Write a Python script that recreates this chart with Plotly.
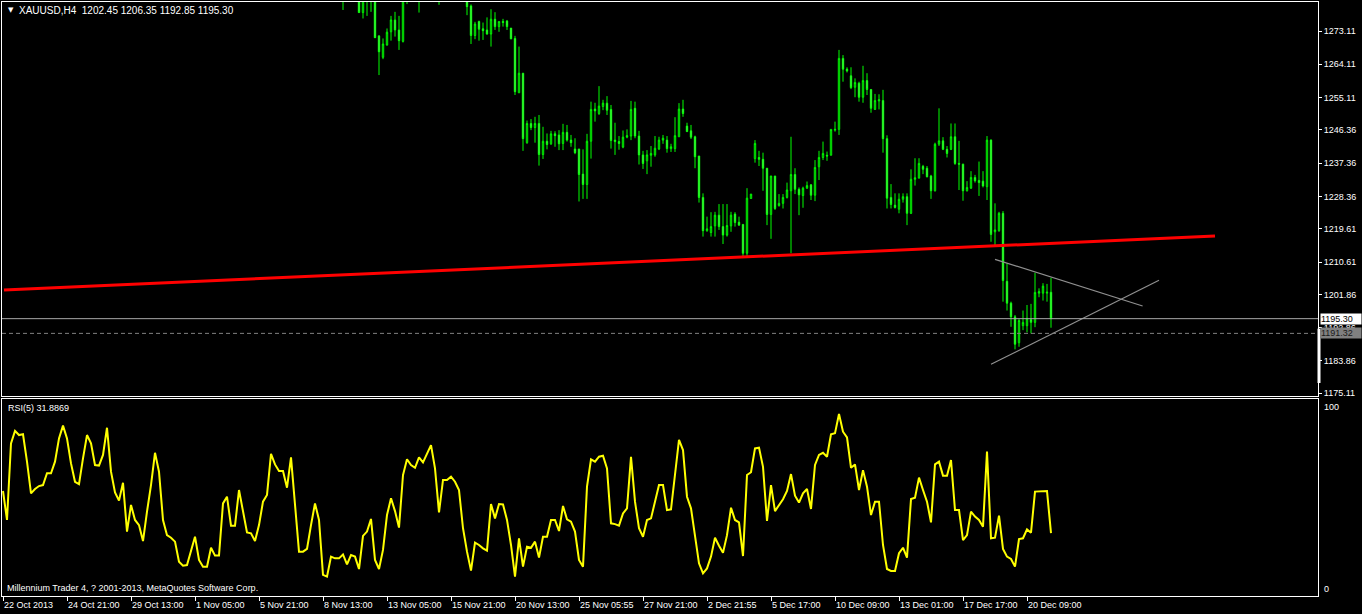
import plotly.graph_objects as go

# ---------------- data ----------------
first_bar = 85  # candles before this index lie above the visible price range

open_ = [
    1283.0, None, None, None, 1283.5, 1278.1, 1283.0, 1285.0, 1287.0, 1271.8,
    1266.0, 1269.3, 1272.9, 1276.1, 1273.4, 1270.3, 1283.0, None, None, 1285.0,
    None, None, None, None, 1284.0, None, None, None, None, None,
    None, 1282.5, 1279.9, 1271.9, 1275.7, 1273.7, 1273.4, 1272.3, 1276.3, 1274.3,
    1275.7, 1275.8, 1273.9, 1271.1, 1256.4, 1261.7, 1242.9, 1248.1, 1247.0, 1248.1,
    1239.7, 1243.3, 1242.6, 1245.3, 1245.0, 1242.7, 1245.7, 1243.6, 1241.2, 1241.2,
    1234.4, 1231.6, 1243.3, 1252.0, 1250.8, 1252.7, 1253.6, 1251.9, 1243.6, 1243.2,
    1241.7, 1244.4, 1244.7, 1252.2, 1244.7, 1239.6, 1238.0, 1239.5, 1239.6, 1241.2,
    1243.6, 1243.6, 1241.3, 1241.3, 1244.5, 1252.0, 1247.4, 1246.1, 1244.5, 1239.3,
    1228.1, 1219.1, 1218.6, 1220.4, 1223.3, 1220.2, 1217.9, 1220.4, 1223.6, 1221.4,
    1220.8, 1213.0, 1227.8, 1238.6, 1238.9, 1238.4, 1236.0, 1223.5, 1233.9, 1225.9,
    1226.5, 1228.1, 1229.9, 1234.3, 1230.3, 1228.6, 1230.6, 1231.5, 1228.7, 1236.4,
    1238.9, 1239.5, 1239.5, 1246.3, 1246.5, 1265.7, 1262.8, 1261.0, 1257.9, 1259.0,
    1255.2, 1259.7, 1257.3, 1251.9, 1254.2, 1254.3, 1244.0, 1228.1, 1226.0, 1224.9,
    1227.6, 1228.3, 1223.8, 1233.0, 1233.3, 1236.5, 1236.0, 1233.9, 1229.9, 1242.5,
    1243.4, 1241.1, 1241.1, 1244.5, 1237.3, 1237.1, 1229.9, 1230.6, 1233.5, 1232.7,
    1232.5, 1231.0, 1243.6, 1218.8, 1219.1, 1223.8, 1205.4, 1199.5, 1195.8, 1188.8,
    1193.4, 1193.4, 1195.1, 1194.3, 1202.2, 1202.2, 1202.2, 1202.45,
]
high = [
    1285.5, None, None, None, 1284.5, 1284.0, 1286.0, 1288.0, 1288.0, 1271.8,
    1271.1, 1273.8, 1277.2, 1278.3, 1277.2, 1284.0, 1286.0, None, None, 1286.0,
    None, None, None, None, 1285.0, None, None, None, None, None,
    None, 1283.5, 1280.3, 1275.6, 1275.9, 1275.4, 1276.8, 1279.0, 1278.2, 1275.7,
    1276.4, 1276.1, 1273.9, 1271.8, 1268.9, 1261.7, 1248.9, 1249.3, 1249.9, 1250.4,
    1247.2, 1245.4, 1246.1, 1246.0, 1246.3, 1248.0, 1247.7, 1245.0, 1244.1, 1241.2,
    1241.1, 1245.3, 1254.0, 1253.7, 1258.2, 1254.5, 1255.5, 1253.1, 1248.3, 1244.7,
    1246.2, 1246.5, 1254.2, 1254.0, 1246.1, 1240.7, 1240.9, 1242.0, 1244.7, 1244.5,
    1245.0, 1244.7, 1242.6, 1249.8, 1253.6, 1254.5, 1248.3, 1247.7, 1244.8, 1239.3,
    1229.2, 1222.9, 1224.1, 1224.2, 1226.3, 1226.3, 1226.3, 1224.2, 1224.1, 1222.9,
    1220.8, 1230.6, 1229.0, 1243.6, 1240.7, 1240.2, 1236.0, 1233.9, 1233.9, 1229.0,
    1229.0, 1232.1, 1244.5, 1236.0, 1230.8, 1231.0, 1232.4, 1231.7, 1238.2, 1240.7,
    1243.2, 1240.5, 1246.5, 1248.6, 1268.0, 1266.6, 1263.3, 1263.3, 1260.3, 1259.4,
    1263.7, 1261.7, 1257.3, 1256.1, 1256.0, 1257.2, 1244.9, 1231.7, 1229.2, 1229.2,
    1229.2, 1229.2, 1235.7, 1238.7, 1238.7, 1236.9, 1236.6, 1234.2, 1242.9, 1252.2,
    1244.4, 1242.0, 1248.1, 1248.1, 1243.4, 1237.2, 1232.5, 1235.2, 1234.2, 1237.8,
    1235.2, 1244.7, 1243.8, 1226.5, 1224.2, 1224.4, 1210.3, 1199.9, 1196.3, 1195.2,
    1197.5, 1199.0, 1199.3, 1207.7, 1203.5, 1204.9, 1204.7, 1206.35,
]
low = [
    1278.8, None, None, None, 1278.0, 1276.5, 1277.2, 1278.3, 1271.3, 1261.2,
    1265.5, 1269.2, 1270.5, 1271.6, 1268.0, 1270.0, 1280.4, None, None, 1278.1,
    None, None, None, None, 1280.2, None, None, None, None, None,
    None, 1277.4, 1269.6, 1270.9, 1270.5, 1270.7, 1272.1, 1268.9, 1273.4, 1272.9,
    1274.3, 1273.4, 1270.9, 1255.8, 1256.4, 1240.7, 1242.6, 1246.3, 1242.9, 1236.7,
    1238.5, 1241.1, 1242.3, 1241.8, 1240.9, 1240.9, 1243.2, 1241.8, 1239.8, 1227.0,
    1227.7, 1227.7, 1238.6, 1248.6, 1250.4, 1251.7, 1250.4, 1241.3, 1239.6, 1241.0,
    1241.4, 1244.1, 1243.6, 1244.1, 1237.0, 1235.8, 1234.4, 1236.4, 1239.1, 1240.9,
    1242.6, 1240.2, 1240.4, 1240.4, 1244.5, 1249.9, 1245.9, 1243.9, 1236.0, 1226.7,
    1217.5, 1218.8, 1217.5, 1217.5, 1219.3, 1215.5, 1217.5, 1218.8, 1220.2, 1220.5,
    1211.9, 1211.9, 1227.8, 1237.5, 1236.6, 1229.9, 1220.6, 1216.9, 1224.7, 1225.6,
    1225.1, 1227.8, 1213.0, 1229.0, 1223.3, 1225.3, 1230.4, 1227.4, 1227.1, 1232.8,
    1238.2, 1238.0, 1239.5, 1245.9, 1245.0, 1259.4, 1261.9, 1257.4, 1255.2, 1254.0,
    1253.7, 1255.8, 1251.0, 1251.8, 1251.9, 1240.2, 1225.1, 1225.1, 1225.1, 1223.8,
    1226.7, 1220.6, 1223.6, 1231.3, 1233.3, 1234.4, 1233.5, 1227.7, 1229.7, 1242.0,
    1240.9, 1238.9, 1240.9, 1236.9, 1230.1, 1227.2, 1229.7, 1230.4, 1232.1, 1228.5,
    1230.8, 1227.4, 1216.1, 1215.2, 1218.8, 1199.9, 1197.5, 1193.1, 1187.0, 1187.7,
    1192.2, 1191.6, 1191.3, 1193.0, 1201.1, 1200.2, 1199.9, 1192.85,
]
close = [
    1284.0, None, None, None, 1278.1, 1283.0, 1285.0, 1287.0, 1271.3, 1267.5,
    1269.6, 1272.8, 1276.1, 1273.4, 1270.5, 1283.0, 1285.0, None, None, 1284.0,
    None, None, None, None, 1282.5, None, None, None, None, None,
    None, 1279.7, 1271.9, 1275.0, 1273.6, 1273.2, 1272.3, 1276.3, 1274.3, 1275.7,
    1275.4, 1274.3, 1271.0, 1256.7, 1261.7, 1244.0, 1248.1, 1247.0, 1248.1, 1239.7,
    1243.3, 1242.4, 1245.3, 1244.8, 1242.6, 1245.7, 1243.6, 1242.9, 1240.2, 1234.3,
    1231.6, 1243.3, 1251.9, 1251.5, 1252.8, 1253.6, 1251.7, 1243.5, 1243.2, 1242.7,
    1244.4, 1244.8, 1251.9, 1244.7, 1239.6, 1237.3, 1239.6, 1240.0, 1241.4, 1243.6,
    1244.1, 1241.3, 1241.8, 1244.8, 1252.0, 1250.8, 1245.9, 1244.4, 1239.1, 1228.1,
    1219.1, 1219.6, 1220.2, 1223.3, 1220.2, 1217.9, 1220.5, 1223.3, 1221.3, 1220.6,
    1213.0, 1227.9, 1229.0, 1242.7, 1238.4, 1236.0, 1223.5, 1233.9, 1225.1, 1226.5,
    1228.1, 1230.1, 1234.3, 1230.3, 1228.8, 1230.6, 1231.3, 1228.7, 1236.2, 1238.9,
    1240.0, 1239.3, 1246.5, 1246.5, 1265.7, 1262.8, 1262.3, 1257.8, 1259.2, 1255.2,
    1259.7, 1257.3, 1252.2, 1254.3, 1254.5, 1244.0, 1227.9, 1226.2, 1225.4, 1227.6,
    1228.3, 1223.8, 1233.0, 1233.4, 1237.3, 1235.7, 1233.7, 1229.9, 1242.5, 1243.4,
    1241.1, 1240.0, 1244.5, 1237.3, 1237.1, 1229.9, 1230.8, 1233.5, 1232.6, 1232.1,
    1231.2, 1243.6, 1218.1, 1219.3, 1223.8, 1205.6, 1199.5, 1195.8, 1188.4, 1194.8,
    1194.3, 1195.4, 1194.3, 1202.4, 1202.6, 1204.1, 1202.45, 1195.30,
]

rsi = [
    53.3, 38.6, 77.5, 83.8, 81.7, 82.1, 68.2, 52.1, 54.3, 55.8,
    56.3, 62.3, 62.3, 68.2, 80.0, 86.5, 80.0, 67.3, 58.0, 56.8,
    69.9, 81.7, 77.5, 66.5, 66.2, 71.6, 85.4, 63.1, 52.6, 48.4,
    57.5, 32.7, 46.2, 38.6, 36.0, 27.9, 42.8, 56.3, 72.7, 63.1,
    38.6, 30.9, 29.6, 27.6, 17.4, 15.4, 15.7, 22.5, 30.1, 18.3,
    14.9, 14.9, 24.5, 20.5, 20.5, 47.0, 50.4, 35.7, 35.7, 53.8,
    43.6, 32.3, 31.8, 27.9, 36.0, 47.9, 51.3, 72.1, 66.8, 63.5,
    63.5, 55.0, 70.4, 47.9, 22.5, 22.5, 23.9, 36.0, 47.0, 38.6,
    10.7, 9.8, 20.0, 19.1, 19.1, 21.1, 16.1, 20.8, 20.0, 13.7,
    30.5, 32.7, 39.1, 18.3, 13.7, 23.4, 41.1, 49.6, 43.1, 34.7,
    61.4, 69.4, 66.5, 65.1, 70.4, 67.8, 72.4, 76.6, 64.8, 42.4,
    58.9, 58.9, 60.6, 58.0, 53.8, 34.4, 22.5, 12.9, 27.1, 25.9,
    24.2, 23.0, 46.7, 39.4, 46.7, 46.5, 38.6, 25.9, 9.8, 29.3,
    14.9, 25.0, 24.5, 27.6, 19.5, 30.1, 30.1, 38.6, 38.6, 33.0,
    45.7, 38.9, 37.7, 32.7, 18.3, 14.9, 55.5, 69.4, 68.2, 70.7,
    71.2, 64.8, 36.9, 36.5, 35.7, 41.9, 44.5, 70.7, 47.9, 34.4,
    30.1, 38.6, 39.4, 47.9, 56.3, 56.3, 43.6, 44.0, 63.1, 79.2,
    74.1, 50.4, 44.5, 30.9, 16.6, 11.5, 14.0, 20.0, 29.6, 25.5,
    22.0, 30.9, 44.8, 38.6, 37.4, 20.3, 61.4, 62.8, 74.9, 75.3,
    65.6, 38.1, 56.3, 43.1, 46.2, 49.1, 53.3, 61.9, 50.9, 47.4,
    52.1, 54.3, 44.2, 66.5, 71.6, 72.7, 70.7, 82.1, 82.6, 92.4,
    83.4, 80.5, 65.1, 66.8, 53.8, 63.9, 55.5, 41.1, 47.9, 47.9,
    25.9, 13.7, 12.7, 12.7, 21.7, 24.5, 19.5, 49.2, 49.9, 60.1,
    53.8, 47.9, 37.4, 66.8, 68.2, 61.1, 61.1, 69.0, 43.6, 43.6,
    28.4, 30.9, 42.8, 40.3, 38.6, 35.2, 73.3, 29.3, 29.6, 40.8,
    23.9, 20.0, 18.8, 14.9, 28.9, 29.3, 33.8, 32.1, 53.0, 53.0,
    53.3, 53.3, 31.8869,
]

time_tick_bars = [0, 16, 32, 48, 64, 80, 96, 112, 128, 144, 160, 176, 192, 208, 224, 240, 256]
time_tick_labels = ["22 Oct 2013", "24 Oct 21:00", "29 Oct 13:00", "1 Nov 05:00", "5 Nov 21:00",
                    "8 Nov 13:00", "13 Nov 05:00", "15 Nov 21:00", "20 Nov 13:00", "25 Nov 05:55",
                    "27 Nov 21:00", "2 Dec 21:55", "5 Dec 17:00", "10 Dec 09:00", "13 Dec 01:00",
                    "17 Dec 17:00", "20 Dec 09:00"]
price_ticks = [1273.11, 1264.11, 1255.11, 1246.36, 1237.36, 1228.36, 1219.61,
               1210.61, 1201.86, 1192.86, 1183.86, 1175.11]

# trend lines (bar index, price)
red_line = [(0.25, 1203.06), (303.0, 1217.66)]
tri_upper = [(248.0, 1211.35), (284.9, 1198.72)]
tri_lower = [(247.0, 1182.95), (289.0, 1205.67)]
last_price = 1195.30
ask_price = 1191.32
rsi_value_text = "31.8869"
header = "XAUUSD,H4  1202.45 1206.35 1192.85 1195.30"

# ---------------- figure ----------------
FONT = "Tahoma, 'Liberation Sans', Arial, sans-serif"
W, H = 1362, 614
ML, MR, MT, MB = 2, 44, 2, 18
plot_w = W - ML - MR
plot_h = H - MT - MB
X_RANGE = [-0.25, -0.25 + plot_w / 4.0]

def py(pix):  # pixel row -> paper y
    return (H - MB - pix) / plot_h

main_bottom = py(396)
rsi_top = py(399)

cx, co, ch, cl, cc = [], [], [], [], []
for k in range(len(open_)):
    if open_[k] is None:
        continue
    cx.append(first_bar + k)
    co.append(open_[k]); ch.append(high[k]); cl.append(low[k]); cc.append(close[k])

fig = go.Figure()
fig.add_trace(go.Candlestick(
    x=cx, open=co, high=ch, low=cl, close=cc,
    increasing=dict(line=dict(color="#00FF00", width=1), fillcolor="#000000"),
    decreasing=dict(line=dict(color="#00FF00", width=1), fillcolor="#FFFFFF"),
    whiskerwidth=0, xaxis="x", yaxis="y", hoverinfo="skip", showlegend=False))

fig.add_trace(go.Scatter(
    x=list(range(len(rsi))), y=rsi, mode="lines",
    line=dict(color="#FFFF00", width=2), xaxis="x2", yaxis="y2",
    hoverinfo="skip", showlegend=False))

axis_common = dict(showgrid=False, zeroline=False, showline=True, mirror=True,
                   linecolor="#FFFFFF", linewidth=1)

fig.update_layout(
    width=W, height=H,
    paper_bgcolor="#000000", plot_bgcolor="#000000",
    margin=dict(l=ML, r=MR, t=MT, b=MB),
    boxgap=0.5,
    font=dict(family=FONT, size=9, color="#FFFFFF"),
    xaxis=dict(domain=[0, 1], anchor="y", range=X_RANGE, showticklabels=False,
               ticks="", rangeslider=dict(visible=False), **axis_common),
    yaxis=dict(domain=[main_bottom, 1], anchor="x", side="right",
               range=[1281.5 - 0.2705 * 396, 1281.5 - 0.2705 * 2],
               tickvals=price_ticks, ticktext=[f"{v:.2f}" for v in price_ticks],
               ticks="outside", ticklen=3, tickcolor="#FFFFFF",
               tickfont=dict(family=FONT, size=9, color="#FFFFFF"), **axis_common),
    xaxis2=dict(domain=[0, 1], anchor="y2", range=X_RANGE,
                tickvals=time_tick_bars, ticktext=time_tick_labels,
                ticks="outside", ticklen=4, tickcolor="#FFFFFF",
                ticklabelposition="outside right",
                tickfont=dict(family=FONT, size=9, color="#FFFFFF"), **axis_common),
    yaxis2=dict(domain=[0, rsi_top], anchor="x2", side="right", range=[0, 100],
                showticklabels=False, ticks="", **axis_common),
)

shapes = []
shapes.append(dict(type="line", xref="x", yref="y", x0=red_line[0][0], y0=red_line[0][1],
                   x1=red_line[1][0], y1=red_line[1][1], line=dict(color="#FF0000", width=3)))
for seg in (tri_upper, tri_lower):
    shapes.append(dict(type="line", xref="x", yref="y", x0=seg[0][0], y0=seg[0][1],
                       x1=seg[1][0], y1=seg[1][1], line=dict(color="#909090", width=1.2)))
shapes.append(dict(type="line", xref="x domain", yref="y", x0=0, x1=1, y0=last_price, y1=last_price,
                   line=dict(color="#A8A8A8", width=1)))
shapes.append(dict(type="line", xref="x domain", yref="y", x0=0, x1=1, y0=ask_price, y1=ask_price,
                   line=dict(color="#808080", width=1, dash="4px,3px")))
# small white marker bar at the right edge of the price panel
shapes.append(dict(type="line", xref="paper", yref="y", x0=(1319 - ML) / plot_w, x1=(1319 - ML) / plot_w,
                   y0=1192.6, y1=1177.9, line=dict(color="#FFFFFF", width=3)))
fig.update_layout(shapes=shapes)

ann = []
ann.append(dict(xref="paper", yref="paper", x=(6 - ML) / plot_w, y=py(10), xanchor="left",
                yanchor="middle", text="▼", showarrow=False,
                font=dict(family="DejaVu Sans", size=7, color="#FFFFFF")))
ann.append(dict(xref="paper", yref="paper", x=(17 - ML) / plot_w, y=py(10), xanchor="left",
                yanchor="middle", text=header, showarrow=False,
                font=dict(family=FONT, size=10, color="#FFFFFF")))
ann.append(dict(xref="paper", yref="paper", x=(6 - ML) / plot_w, y=py(408), xanchor="left",
                yanchor="middle", text="RSI(5) " + rsi_value_text, showarrow=False,
                font=dict(family=FONT, size=9, color="#FFFFFF")))
ann.append(dict(xref="paper", yref="paper", x=(5 - ML) / plot_w, y=py(588), xanchor="left",
                yanchor="middle", text="Millennium Trader 4, ? 2001-2013, MetaQuotes Software Corp.",
                showarrow=False, font=dict(family=FONT, size=9, color="#FFFFFF")))
ann.append(dict(xref="paper", yref="paper", x=(1322 - ML) / plot_w, y=py(407), xanchor="left",
                yanchor="middle", text="100", showarrow=False,
                font=dict(family=FONT, size=9, color="#FFFFFF")))
ann.append(dict(xref="paper", yref="paper", x=(1322 - ML) / plot_w, y=py(589), xanchor="left",
                yanchor="middle", text="0", showarrow=False,
                font=dict(family=FONT, size=9, color="#FFFFFF")))
ann.append(dict(xref="paper", yref="y", x=(1320 - ML) / plot_w, y=last_price, xanchor="left",
                yanchor="middle", text=f"{last_price:.2f}", showarrow=False, align="left",
                bgcolor="#FFFFFF", width=40, borderpad=0,
                font=dict(family=FONT, size=9, color="#000000")))
ann.append(dict(xref="paper", yref="y", x=(1320 - ML) / plot_w, y=ask_price, xanchor="left",
                yanchor="middle", text=f"{ask_price:.2f}", showarrow=False, align="left",
                bgcolor="#808080", width=40, borderpad=0,
                font=dict(family=FONT, size=9, color="#1A1A1A")))
fig.update_layout(annotations=ann)

fig.write_html("out.html", config=dict(displayModeBar=False),
               post_script="document.body.style.margin='0px';document.body.style.overflow='hidden';")
